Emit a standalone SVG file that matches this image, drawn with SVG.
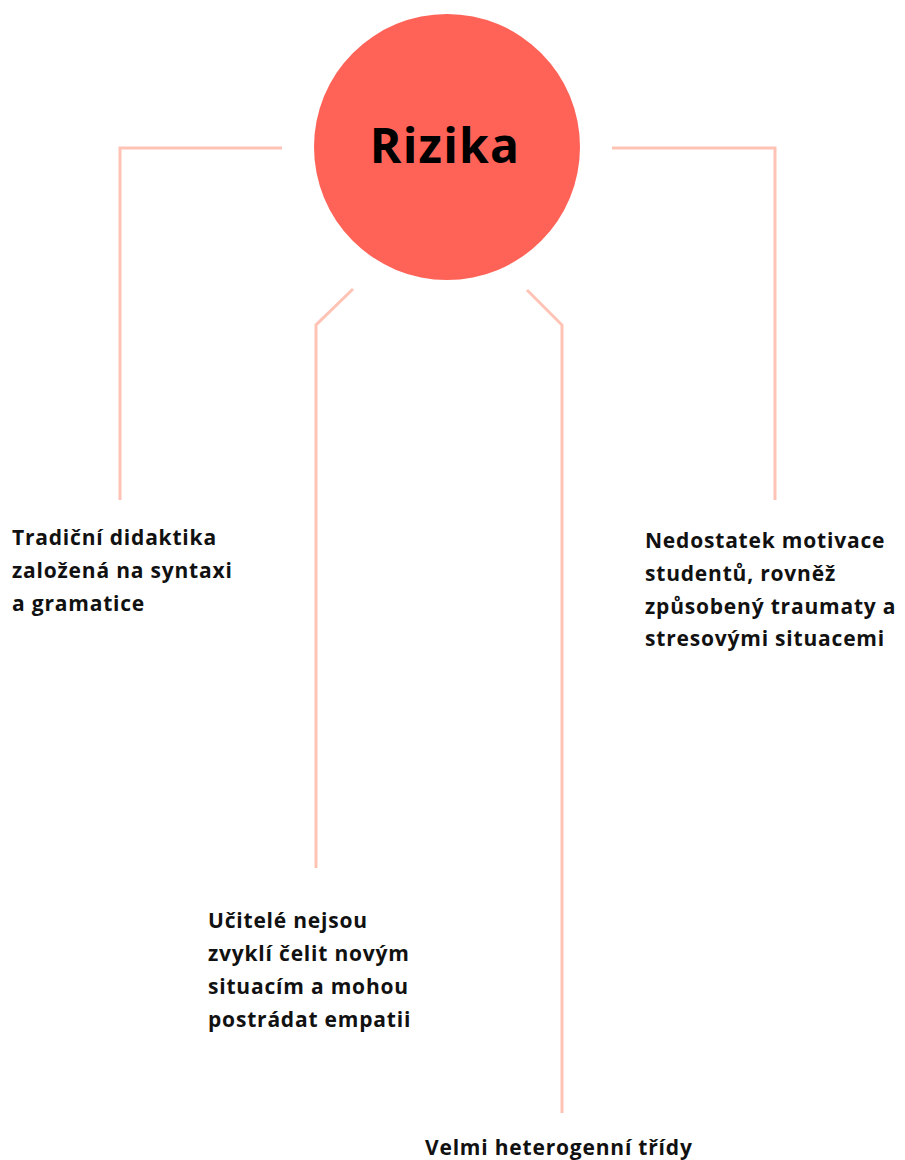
<svg xmlns="http://www.w3.org/2000/svg" width="905" height="1160" viewBox="0 0 905 1160">
<style>
.c{fill:none;stroke:#FFC3B6;stroke-width:3}
.t{font-family:"Open Sans",Lato,sans-serif;font-weight:700;font-size:21px;letter-spacing:0.8px;fill:#111}
.h{font-family:"Open Sans",Lato,sans-serif;font-weight:700;font-size:48px;letter-spacing:1.2px;fill:#000}
</style>
<rect width="905" height="1160" fill="#fff"/>
<g id="connectors">
<polyline class="c" points="282,148 120,148 120,500"/>
<polyline class="c" points="612,148 775,148 775,500"/>
<polyline class="c" points="353,289 316,325 316,868"/>
<polyline class="c" points="527,290 562,325 562,1113"/>
</g>
<g id="center">
<circle cx="447" cy="147" r="133" fill="#FF6257"/>
<text class="h" x="445" y="163" text-anchor="middle">Rizika</text>
</g>
<g id="n1">
<text class="t" x="12" y="545">Tradiční didaktika</text>
<text class="t" x="12" y="578">založená na syntaxi</text>
<text class="t" x="12" y="611">a gramatice</text>
</g>
<g id="n2">
<text class="t" x="645" y="548">Nedostatek motivace</text>
<text class="t" x="645" y="581">studentů, rovněž</text>
<text class="t" x="645" y="614">způsobený traumaty a</text>
<text class="t" x="645" y="646">stresovými situacemi</text>
</g>
<g id="n3">
<text class="t" x="208" y="928">Učitelé nejsou</text>
<text class="t" x="208" y="961">zvyklí čelit novým</text>
<text class="t" x="208" y="994">situacím a mohou</text>
<text class="t" x="208" y="1027">postrádat empatii</text>
</g>
<g id="n4">
<text class="t" x="425" y="1155">Velmi heterogenní třídy</text>
</g>
</svg>
